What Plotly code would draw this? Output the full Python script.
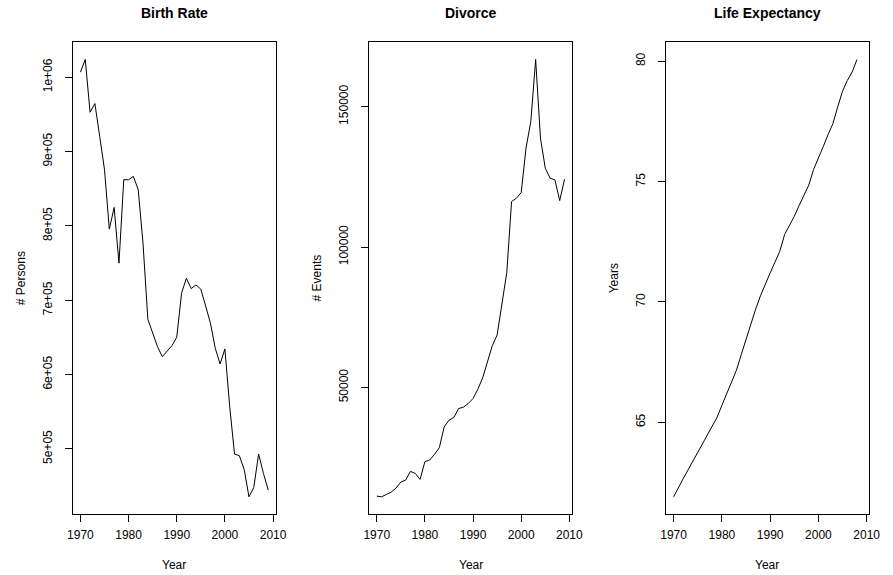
import plotly.graph_objects as go

W, H = 893, 575

years_birth = list(range(1970, 2010))
birth = [1006700, 1023800, 952800, 964500, 920500, 875600, 795600, 824800, 749800, 862100,
         862100, 866600, 848600, 776000, 674400, 656400, 637500, 624000, 631700, 638800,
         650100, 709400, 729600, 715600, 720600, 714800, 692300, 669000, 635300, 614200,
         634400, 556800, 493000, 490800, 472400, 435500, 448100, 493000, 467000, 444500]

years_div = list(range(1970, 2010))
divorce = [11310, 11070, 11900, 12740, 14170, 16310, 17020, 20120, 19400, 17260,
           23570, 24170, 26190, 28570, 35950, 38330, 39290, 42500, 42980, 44290,
           46070, 49400, 53450, 58930, 64880, 68690, 79170, 90830, 116190, 117380,
           119400, 135240, 144760, 166790, 138810, 128100, 124520, 123930, 116550, 124170]

years_life = list(range(1970, 2009))
life = [61.90, 62.30, 62.66, 63.02, 63.39, 63.74, 64.10, 64.46, 64.82, 65.20,
        65.70, 66.18, 66.66, 67.15, 67.80, 68.45, 69.10, 69.70, 70.25, 70.75,
        71.20, 71.65, 72.10, 72.80, 73.15, 73.55, 74.00, 74.40, 74.85, 75.50,
        75.95, 76.45, 76.95, 77.40, 78.10, 78.75, 79.20, 79.55, 80.07]
# x-limits of the life-expectancy panel as drawn in the reference
xlim_life = [1970.0, 2008.84]

titles = ["Birth Rate", "Divorce", "Life Expectancy"]
ylabels = ["# Persons", "# Events", "Years"]
xlabel = "Year"
xticks = [1970, 1980, 1990, 2000, 2010]
yticks_birth = [500000, 600000, 700000, 800000, 900000, 1000000]
yticklabels_birth = ["5e+05", "6e+05", "7e+05", "8e+05", "9e+05", "1e+06"]
yticks_div = [50000, 100000, 150000]
yticklabels_div = ["50000", "100000", "150000"]
yticks_life = [65, 70, 75, 80]
yticklabels_life = ["65", "70", "75", "80"]

FONT = "Liberation Sans, Arial, Helvetica, sans-serif"

panels_px = [(68.3, 275.3), (370.7, 577.7), (673.7, 880.3)]
top_px, bot_px = 42.0, 514.3
ydom = [1 - bot_px / H, 1 - top_px / H]


def rng(v):
    lo, hi = min(v), max(v)
    d = (hi - lo) * 0.04
    return [lo - d, hi + d]


series = [(years_birth, birth, yticks_birth, yticklabels_birth, years_birth),
          (years_div, divorce, yticks_div, yticklabels_div, years_div),
          (years_life, life, yticks_life, yticklabels_life, xlim_life)]

fig = go.Figure()
layout = dict(
    width=W, height=H, margin=dict(l=0, r=0, t=0, b=0),
    paper_bgcolor="white", plot_bgcolor="white", showlegend=False,
    font=dict(family=FONT, size=12, color="black"),
)
annotations = []
for i, (xs, ys, yt, ytl, xl) in enumerate(series):
    n = "" if i == 0 else str(i + 1)
    fig.add_trace(go.Scatter(x=xs, y=ys, mode="lines",
                             line=dict(color="black", width=1),
                             xaxis="x" + n, yaxis="y" + n, hoverinfo="skip"))
    x0, x1 = panels_px[i]
    common = dict(showgrid=False, zeroline=False, showline=True, mirror=True,
                  linecolor="black", linewidth=1, ticks="outside", ticklen=7,
                  tickcolor="black", tickwidth=1,
                  tickfont=dict(family=FONT, size=12, color="black"))
    layout["xaxis" + n] = dict(domain=[x0 / W, x1 / W], range=rng(xl), anchor="y" + n,
                               tickvals=xticks, ticktext=[str(t) for t in xticks],
                               ticklabelstandoff=2, **common)
    layout["yaxis" + n] = dict(domain=ydom, range=rng(ys), anchor="x" + n,
                               tickvals=yt, ticktext=ytl, tickangle=-90,
                               ticklabelstandoff=8, **common)
    cx = (x0 + x1) / 2
    annotations.append(dict(text="<b>" + titles[i] + "</b>", x=cx / W, y=1 - 13.5 / H,
                            xref="paper", yref="paper", showarrow=False,
                            xanchor="center", yanchor="middle",
                            font=dict(family=FONT, size=14, color="black")))
    annotations.append(dict(text=xlabel, x=cx / W, y=1 - 565.3 / H,
                            xref="paper", yref="paper", showarrow=False,
                            xanchor="center", yanchor="middle",
                            font=dict(family=FONT, size=12, color="black")))
    annotations.append(dict(text=ylabels[i], x=(x0 - 53) / W,
                            y=1 - ((top_px + bot_px) / 2) / H,
                            xref="paper", yref="paper", showarrow=False, textangle=-90,
                            xanchor="center", yanchor="middle",
                            font=dict(family=FONT, size=12, color="black")))
layout["annotations"] = annotations
fig.update_layout(**layout)
fig.write_html("out.html", config={"displayModeBar": False},
               post_script="document.body.style.margin='0';document.body.style.overflow='hidden';")
